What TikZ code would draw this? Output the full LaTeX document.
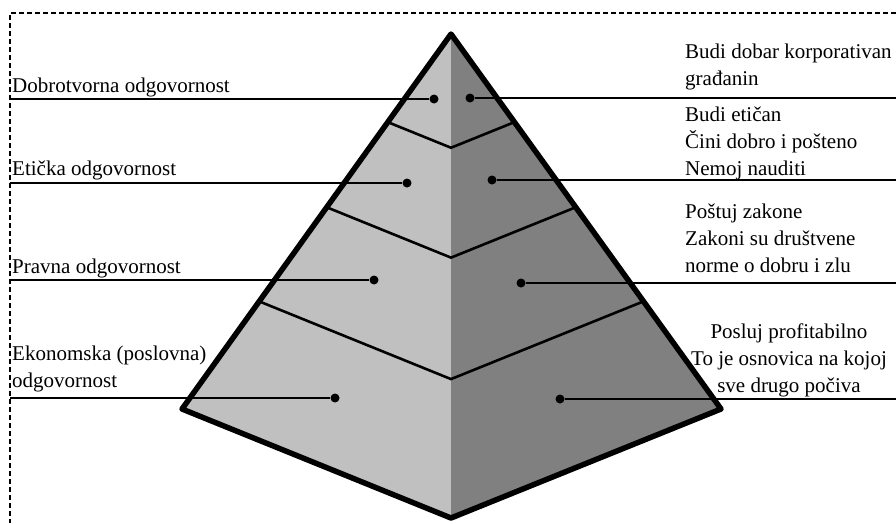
\documentclass[tikz,border=0pt]{standalone}
\usepackage{fontspec}
\setmainfont{Liberation Serif}
\usetikzlibrary{calc}

\begin{document}
\begin{tikzpicture}[x=1pt, y=-1pt, font=\fontsize{21}{26.8}\selectfont,
    leader/.style={line width=1.3pt},
    dot/.style={circle, fill=black, inner sep=0pt, minimum size=9pt},
    label/.style={inner sep=0pt, anchor=base west, align=left}]
    % --- 1. Parameters ---
    \def\tOne{0.235}
    \def\tTwo{0.462}
    \def\tThree{0.713}
    \useasboundingbox (0,0) rectangle (896,523);

    % --- 2. Frame ---
    \draw[line width=1.2pt, dash pattern=on 5pt off 3pt] (896,13) -- (10,13) -- (10,523);

    % --- 3. Pyramid ---
    \coordinate (Apex) at (451,34);
    \coordinate (Lft) at (182,409);
    \coordinate (Rgt) at (721,409);
    \coordinate (Bot) at (451,518);

    \fill[fill={rgb,255:red,192;green,192;blue,192}] (Apex) -- (Lft) -- (Bot) -- cycle;
    \fill[fill={rgb,255:red,128;green,128;blue,128}] (Apex) -- (Rgt) -- (Bot) -- cycle;

    % Band dividers
    \foreach \t in {\tOne,\tTwo,\tThree}
        \draw[line width=2.6pt] ($(Apex)!\t!(Lft)$) -- ($(Apex)!\t!(Bot)$) -- ($(Apex)!\t!(Rgt)$);

    % Outline
    \draw[line width=5.5pt, line join=round] (Apex) -- (Lft) -- (Bot) -- (Rgt) -- cycle;

    % --- 4. Left side: levels ---
    \node[dot] (dL1) at (434,99) {};
    \node[dot] (dL2) at (407,183) {};
    \node[dot] (dL3) at (374,280) {};
    \node[dot] (dL4) at (335,398) {};
    \coordinate (eL1) at (10,99);
    \coordinate (eL2) at (10,183);
    \coordinate (eL3) at (10,280);
    \coordinate (eL4) at (10,398);
    \draw[leader] (eL1) -- (dL1);
    \draw[leader] (eL2) -- (dL2);
    \draw[leader] (eL3) -- (dL3);
    \draw[leader] (eL4) -- (dL4);

    % multi-line labels sit on the baseline of their last line
    \node[label] (tL1) at (12,92) {Dobrotvorna odgovornost};
    \node[label] (tL2) at (12,175) {Etička odgovornost};
    \node[label] (tL3) at (12,273) {Pravna odgovornost};
    \node[label] (tL4) at (12,387) {Ekonomska (poslovna)\\odgovornost};

    % --- 5. Right side: meaning ---
    \node[dot] (dR1) at (470,98) {};
    \node[dot] (dR2) at (492,180) {};
    \node[dot] (dR3) at (521,283) {};
    \node[dot] (dR4) at (560,399) {};
    \coordinate (eR1) at (896,98);
    \coordinate (eR2) at (896,180);
    \coordinate (eR3) at (896,283);
    \coordinate (eR4) at (896,399);
    \draw[leader] (dR1) -- (eR1);
    \draw[leader] (dR2) -- (eR2);
    \draw[leader] (dR3) -- (eR3);
    \draw[leader] (dR4) -- (eR4);

    \node[label] (tR1) at (685,85) {Budi dobar korporativan\\građanin};
    \node[label] (tR2) at (685,175) {Budi etičan\\Čini dobro i pošteno\\Nemoj nauditi};
    \node[label] (tR3) at (685,272) {Poštuj zakone\\Zakoni su društvene\\norme o dobru i zlu};
    \node[label, anchor=base, align=center] (tR4) at (789,392) {Posluj profitabilno\\To je osnovica na kojoj\\sve drugo počiva};
\end{tikzpicture}
\end{document}
